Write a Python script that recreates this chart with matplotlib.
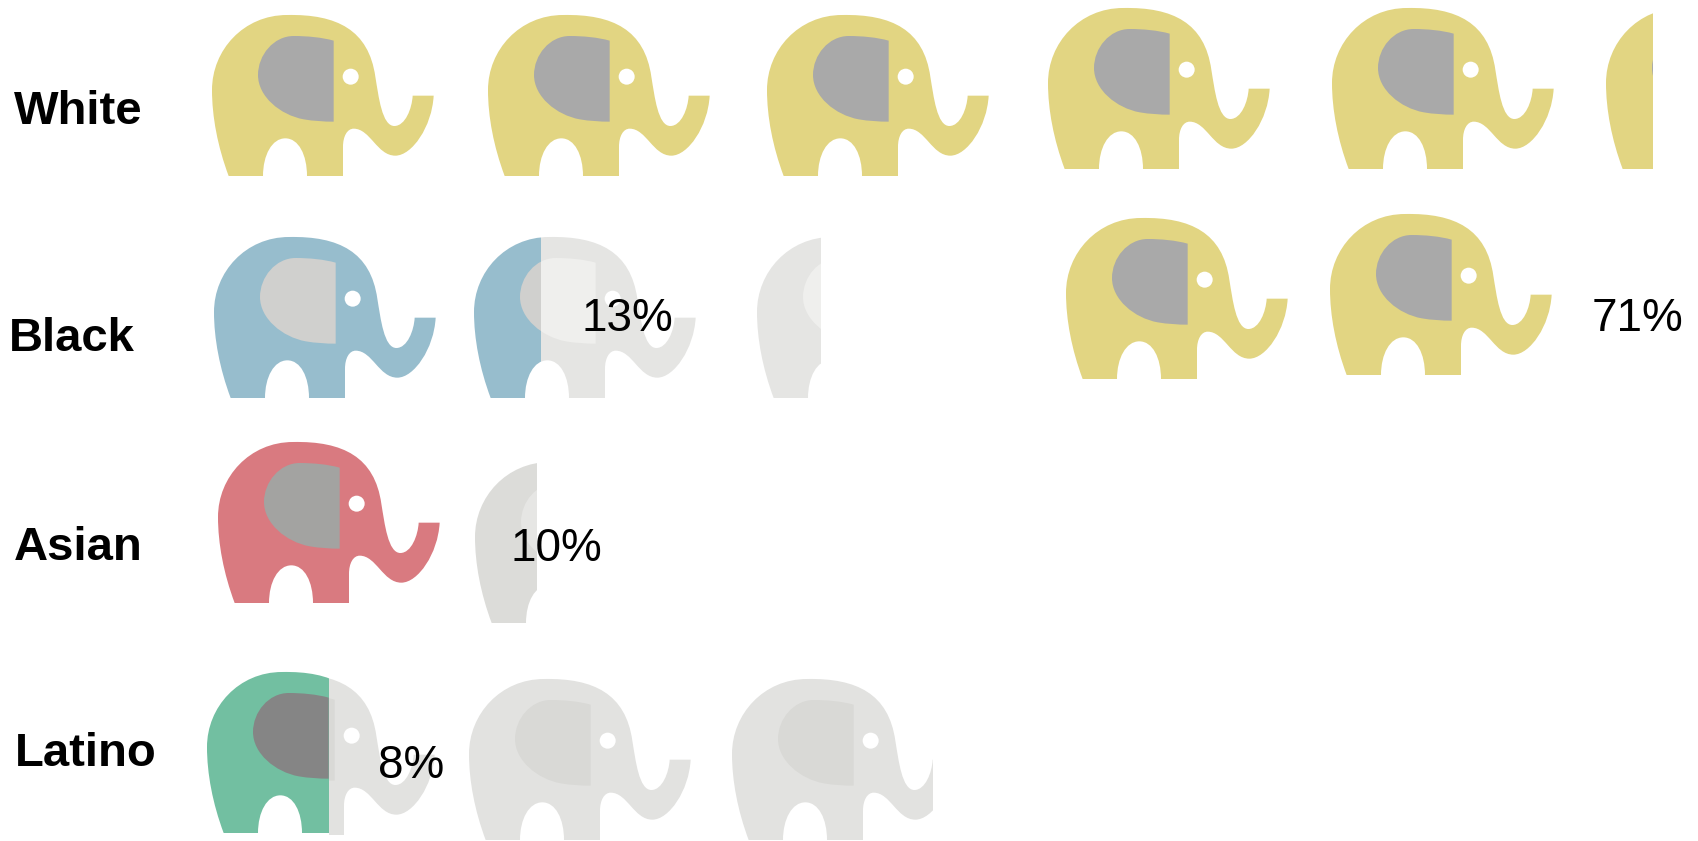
import matplotlib
matplotlib.use("Agg")
import matplotlib.pyplot as plt
from matplotlib.path import Path
from matplotlib.patches import PathPatch, Circle, Rectangle
from matplotlib.transforms import Affine2D

plt.rcParams['font.family'] = ['Liberation Sans', 'DejaVu Sans']

groups = ["White", "Black", "Asian", "Latino"]
percents = ["71%", "13%", "10%", "8%"]

# share of each elephant that is coloured / visible at all
white_fill = [1, 1, 1, 1, 1, 0.21, 1, 1]
white_show = [1, 1, 1, 1, 1, 0.21, 1, 1]
black_fill = [1, 0.30, 0]
black_show = [1, 1, 0.29]
asian_fill = [1, 0]
asian_show = [1, 0.28]
latino_fill = [0.55, 0, 0]
latino_show = [1, 1, 0.905]

# layout, in pixels of the picture
white_pos = [(212, 15), (488, 15), (767, 15), (1048, 8), (1332, 8), (1606, 8), (1066, 218), (1330, 214)]
black_pos = [(214, 237), (474, 237), (757, 237)]
asian_pos = [(218, 442), (475, 462)]
latino_pos = [(207, 672), (469, 679), (732, 679)]

# the grey half of the first Latino elephant sits a little off the green half
latino_ghost_shift = (6, 2)

label_pos = [(14, 112), (9, 339), (14, 548), (15, 754)]
percent_pos = [(1638, 319), (627, 319), (556, 549), (411, 766)]

body_colors = ["#e2d582", "#97bdcd", "#d97a80", "#72bfa1"]
ear_colors = ["#a9a9a9", "#d0d0ce", "#a3a3a1", "#858585"]
ghost_body = ["#e3e3e1", "#e5e5e3", "#dcdcd9", "#e2e2e0"]
ghost_ear = ["#d8d8d5", "#efefed", "#e6e6e4", "#d9d9d6"]

BODY_START = (115, 528)
BODY_SEGMENTS = [
    [(82, 440), (65, 350), (65, 270)],
    [(65, 150), (160, 45), (290, 45)],
    [(440, 42), (535, 90), (555, 230)],
    [(565, 290), (575, 378), (612, 378)],
    [(645, 378), (665, 325), (667, 287)],
    [(730, 287)],
    [(725, 380), (665, 467), (615, 467)],
    [(560, 467), (540, 386), (490, 386)],
    [(470, 386), (458, 410), (458, 440)],
    [(458, 528)],
    [(350, 528)],
    [(350, 465), (325, 415), (285, 415)],
    [(245, 415), (218, 465), (218, 528)],
]
EAR_START = (430, 122)
EAR_SEGMENTS = [
    [(395, 112), (350, 108), (310, 108)],
    [(250, 108), (203, 165), (203, 225)],
    [(203, 290), (270, 345), (340, 358)],
    [(370, 363), (400, 365), (430, 365)],
]

ELEPHANT_W = 222
ELEPHANT_H = 162


def zoom_to_px(p):
    """Move a crop coordinate to pixels from the elephant's top left."""
    return ((p[0] - 65) / 3.0, (p[1] - 45) / 3.0)


def make_path(start, segments):
    """Closed outline from cubic (3 points) and straight (1 point) segments."""
    verts = [zoom_to_px(start)]
    codes = [Path.MOVETO]
    for seg in segments:
        verts.extend(zoom_to_px(p) for p in seg)
        codes.extend([Path.CURVE4 if len(seg) == 3 else Path.LINETO] * len(seg))
    verts.append(verts[0])
    codes.append(Path.CLOSEPOLY)
    return Path(verts, codes)


BODY = make_path(BODY_START, BODY_SEGMENTS)
EAR = make_path(EAR_START, EAR_SEGMENTS)
EYE_CENTER = zoom_to_px((481, 230))


def add_layer(ax, x, y, body, ear, clip_left, clip_right):
    """Draw one elephant at x, y, only the part between two picture columns."""
    trans = Affine2D().translate(x, y) + ax.transData
    clip = Rectangle((clip_left, y - 5), clip_right - clip_left, ELEPHANT_H + 10,
                     transform=ax.transData)
    parts = [PathPatch(BODY, fc=body, ec="none", transform=trans),
             PathPatch(EAR, fc=ear, ec="none", transform=trans),
             Circle(EYE_CENTER, 8, fc="white", ec="none", transform=trans)]
    for part in parts:
        ax.add_patch(part)
        part.set_clip_path(clip)


def draw_row(ax, i, positions, fills, shows, first_shift=(0, 0)):
    for n, ((x, y), fill, show) in enumerate(zip(positions, fills, shows)):
        if fill < show:
            dx, dy = first_shift if n == 0 else (0, 0)
            add_layer(ax, x + dx, y + dy, ghost_body[i], ghost_ear[i],
                      x + fill * ELEPHANT_W, x + dx + show * ELEPHANT_W)
        if fill > 0:
            add_layer(ax, x, y, body_colors[i], ear_colors[i], x, x + fill * ELEPHANT_W)


def main():
    fig = plt.figure(figsize=(16.98, 8.41), dpi=100)
    ax = fig.add_axes([0, 0, 1, 1])
    ax.set_xlim(0, 1698)
    ax.set_ylim(841, 0)
    ax.axis("off")

    draw_row(ax, 0, white_pos, white_fill, white_show)
    draw_row(ax, 1, black_pos, black_fill, black_show)
    draw_row(ax, 2, asian_pos, asian_fill, asian_show)
    draw_row(ax, 3, latino_pos, latino_fill, latino_show, first_shift=latino_ghost_shift)

    for name, (x, y) in zip(groups, label_pos):
        ax.text(x, y, name, fontsize=34, fontweight="bold", color="black",
                ha="left", va="center")
    for pct, (x, y) in zip(percents, percent_pos):
        ax.text(x, y, pct, fontsize=33, color="black", ha="center", va="center", zorder=5)

    fig.savefig("out.png", dpi=100)


if __name__ == "__main__":
    main()
